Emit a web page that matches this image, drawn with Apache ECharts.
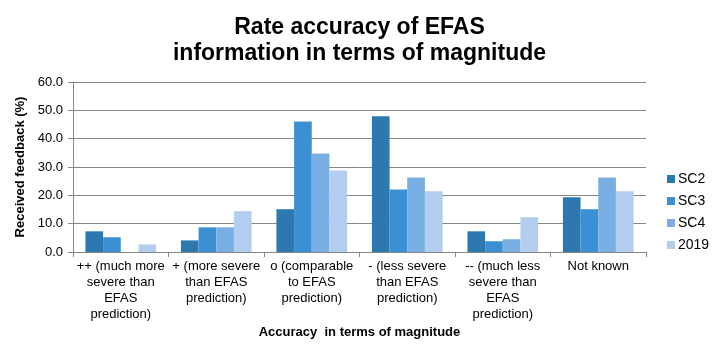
<!DOCTYPE html>
<html><head><meta charset="utf-8">
<script src="https://cdn.jsdelivr.net/npm/echarts@6/dist/echarts.min.js"></script>
<style>html,body{margin:0;padding:0;background:#fff}#c{width:719px;height:356px}</style>
</head><body><div id="c"></div>
<script>
const categories = [
  "++ (much more\nsevere than\nEFAS\nprediction)",
  "+ (more severe\nthan EFAS\nprediction)",
  "o (comparable\nto EFAS\nprediction)",
  "- (less severe\nthan EFAS\nprediction)",
  "-- (much less\nsevere than\nEFAS\nprediction)",
  "Not known"
];
const seriesNames = ["SC2", "SC3", "SC4", "2019"];
const sc2 = [7.3, 4.1, 15.1, 47.9, 7.3, 19.3];
const sc3 = [5.2, 8.7, 46.1, 22.1, 3.8, 15.1];
const sc4 = [0.0, 8.7, 34.8, 26.3, 4.5, 26.3];
const y2019 = [2.7, 14.4, 28.8, 21.4, 12.3, 21.4];
const colors = ["#2e78b0", "#3a90d2", "#78aee2", "#b3cdee"];
const font = "Arial, 'Liberation Sans', sans-serif";

const chart = echarts.init(document.getElementById('c'));
const data = [sc2, sc3, sc4, y2019];
chart.setOption({
  animation: false,
  title: {
    text: "Rate accuracy of EFAS\ninformation in terms of magnitude",
    left: 'center', top: 10,
    textStyle: { fontFamily: font, fontSize: 23, fontWeight: 'bold', color: '#000', lineHeight: 26 }
  },
  legend: {
    orient: 'vertical', left: 662, top: 167,
    itemWidth: 8, itemHeight: 8, itemGap: 8,
    icon: 'rect',
    textStyle: { fontFamily: font, fontSize: 14, color: '#000', padding: [0, 0, 0, -2] },
    data: seriesNames
  },
  grid: { left: 73, right: 73, top: 82, bottom: 104 },
  xAxis: {
    type: 'category', data: categories,
    name: 'Accuracy  in terms of magnitude', nameLocation: 'middle', nameGap: 74,
    nameTextStyle: { fontFamily: font, fontSize: 13, fontWeight: 'bold', color: '#000' },
    axisLine: { lineStyle: { color: '#868686' } },
    axisTick: { show: true, length: 5, alignWithLabel: false, lineStyle: { color: '#868686' } },
    axisLabel: { interval: 0, fontFamily: font, fontSize: 13, color: '#000', lineHeight: 15.7, margin: 7 }
  },
  yAxis: {
    type: 'value', min: 0, max: 60, interval: 10,
    name: 'Received feedback (%)', nameLocation: 'middle', nameGap: 40, nameRotate: 90,
    nameTextStyle: { fontFamily: font, fontSize: 13, fontWeight: 'bold', color: '#000' },
    axisLine: { show: true, lineStyle: { color: '#868686' } },
    axisTick: { show: true, inside: false, length: 5, lineStyle: { color: '#868686' } },
    axisLabel: { fontFamily: font, fontSize: 13, color: '#000', margin: 10, formatter: v => v.toFixed(1) },
    splitLine: { lineStyle: { color: '#868686' } }
  },
  series: seriesNames.map((n, i) => ({
    name: n, type: 'bar', data: data[i], barGap: '0%', barCategoryGap: '26%',
    itemStyle: { color: colors[i] }
  }))
});
</script></body></html>
